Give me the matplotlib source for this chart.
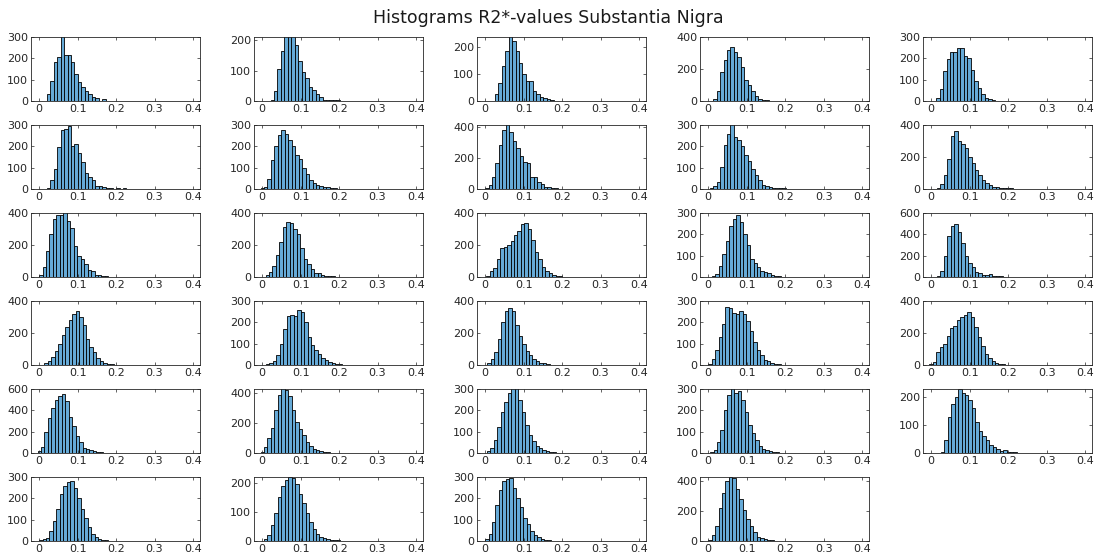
import matplotlib
matplotlib.use('Agg')
import matplotlib.pyplot as plt
from matplotlib.ticker import FuncFormatter, MaxNLocator

# histogram counts per subject (bin width BIN_W, first bin edge in starts)
BIN_W = 0.009
starts = [
    0.020, 0.022, 0.025, 0.013, 0.013,
    0.020, -0.004, 0.000, 0.004, 0.015,
    0.000, 0.000, 0.003, 0.010, 0.015,
    0.005, 0.010, 0.006, 0.000, -0.005,
    -0.004, -0.004, 0.005, 0.005, 0.025,
    0.000, 0.005, 0.000, 0.000,
]
counts = [
    # row 1
    [31, 95, 185, 205, 320, 215, 215, 185, 125, 90, 65, 45, 35, 18, 12, 0, 8],
    [3, 33, 105, 165, 260, 280, 250, 185, 130, 95, 75, 45, 35, 22, 12, 3, 2, 2, 2, 2],
    [25, 65, 128, 185, 245, 220, 185, 140, 100, 75, 75, 35, 25, 15, 12, 8, 3],
    [15, 60, 180, 255, 320, 340, 305, 275, 215, 130, 100, 60, 30, 15, 8, 5, 3, 2],
    [12, 55, 140, 195, 228, 228, 248, 248, 210, 200, 145, 95, 60, 35, 15, 8, 3],
    # row 2
    [3, 40, 95, 195, 275, 280, 295, 200, 210, 170, 125, 75, 55, 40, 15, 12, 10, 5, 3, 0, 3, 0, 3],
    [3, 8, 45, 135, 200, 255, 275, 260, 230, 200, 160, 140, 100, 70, 40, 30, 20, 15, 10, 8, 5, 3],
    [5, 25, 75, 165, 285, 380, 415, 365, 310, 260, 210, 175, 165, 80, 75, 45, 30, 12, 10, 5, 5, 3, 3, 2, 0, 3, 0, 0, 3],
    [3, 15, 35, 105, 205, 260, 310, 245, 230, 200, 160, 130, 95, 65, 40, 20, 15, 10, 5, 3, 3, 3],
    [5, 30, 90, 190, 330, 360, 300, 280, 255, 200, 165, 120, 85, 55, 35, 25, 15, 10, 8, 8, 5, 5, 3],
    # row 3
    [15, 60, 160, 270, 360, 390, 385, 410, 350, 305, 195, 130, 115, 80, 45, 35, 15, 12, 8, 5, 3, 0, 3, 0, 0, 3],
    [3, 10, 30, 70, 140, 220, 310, 345, 335, 300, 270, 180, 115, 80, 50, 25, 25, 15, 8, 5, 5, 3, 2],
    [5, 40, 55, 110, 180, 185, 200, 225, 260, 290, 330, 340, 300, 230, 155, 110, 65, 40, 25, 15, 8, 5, 3],
    [5, 15, 50, 110, 170, 240, 270, 290, 260, 200, 150, 85, 65, 45, 30, 25, 20, 10, 5, 3],
    [10, 60, 200, 380, 480, 500, 420, 320, 200, 130, 90, 50, 35, 20, 15, 25, 10, 8, 5, 3],
    # row 4
    [3, 10, 25, 50, 90, 130, 185, 240, 280, 320, 335, 300, 250, 160, 110, 80, 45, 25, 15, 8, 5, 3],
    [3, 8, 20, 45, 100, 170, 230, 235, 230, 260, 250, 200, 130, 95, 70, 50, 35, 25, 15, 10, 5, 3],
    [15, 40, 80, 160, 270, 340, 355, 340, 250, 180, 130, 90, 60, 40, 25, 15, 10, 5, 3],
    [5, 30, 70, 130, 190, 270, 265, 245, 240, 255, 240, 205, 160, 110, 70, 45, 25, 20, 10, 5, 3],
    [5, 20, 80, 110, 130, 180, 230, 245, 280, 300, 315, 330, 300, 240, 175, 120, 70, 45, 25, 15, 8, 5, 3],
    # row 5
    [20, 60, 200, 330, 420, 500, 530, 550, 490, 340, 250, 160, 100, 50, 35, 25, 15, 10, 5, 3],
    [5, 40, 100, 170, 290, 390, 440, 425, 380, 290, 210, 160, 120, 75, 45, 30, 20, 15, 8, 5, 3, 2],
    [10, 25, 60, 120, 190, 240, 280, 320, 320, 250, 190, 130, 85, 55, 35, 25, 15, 10, 5, 3],
    [3, 15, 50, 110, 200, 270, 310, 280, 290, 250, 190, 130, 95, 60, 35, 20, 12, 8, 5, 3],
    [5, 45, 130, 175, 200, 230, 215, 210, 190, 160, 110, 80, 60, 45, 30, 20, 15, 8, 10, 5, 3, 2],
    # row 6
    [3, 8, 15, 45, 95, 150, 220, 260, 275, 280, 250, 200, 150, 110, 65, 35, 20, 10, 5, 3],
    [8, 20, 55, 95, 150, 190, 210, 220, 215, 195, 160, 130, 95, 65, 40, 25, 15, 10, 8, 5, 3, 2],
    [8, 35, 90, 170, 240, 280, 290, 295, 250, 200, 160, 110, 80, 45, 30, 20, 10, 5, 3],
    [10, 40, 100, 220, 320, 400, 430, 420, 350, 280, 210, 150, 100, 60, 30, 20, 12, 8, 5, 3],
]
# y-axis upper limits as shown
ytops = [
    300, 210, 235, 400, 300,
    300, 300, 410, 300, 400,
    400, 400, 400, 300, 600,
    400, 300, 400, 300, 400,
    600, 430, 300, 300, 230,
    300, 220, 300, 430,
]
xticks = [0, 0.1, 0.2, 0.3, 0.4]

title = 'Histograms R2*-values Substantia Nigra'

# figure layout (5 columns x 6 rows, matlab-like)
fig, axes = plt.subplots(6, 5, figsize=(10.97, 5.58), dpi=100)
fig.subplots_adjust(left=31/1097, right=1092/1097, top=1-37/558,
                    bottom=1-541/558, wspace=0.32, hspace=0.375)

bar_fc = '#66AAD7'
tick_c = '#262626'

for i, ax in enumerate(axes.flat):
    if i >= len(counts):
        ax.set_visible(False)
        continue
    c = counts[i]
    edges = [starts[i] + BIN_W * k for k in range(len(c))]
    ax.bar(edges, c, width=BIN_W, align='edge', color=bar_fc,
           edgecolor='black', linewidth=0.6)
    ax.set_xlim(-0.021, 0.418)
    ax.set_ylim(0, ytops[i])
    ax.set_xticks(xticks)
    ax.xaxis.set_major_formatter(FuncFormatter(lambda v, p: '%g' % v))
    ax.yaxis.set_major_locator(MaxNLocator(nbins=3, steps=[1, 2, 5, 10]))
    ax.tick_params(direction='in', length=2.5, width=0.5, top=True,
                   right=True, labelsize=8, colors=tick_c, pad=2)
    for s in ax.spines.values():
        s.set_linewidth(0.6)
        s.set_color('#262626')

fig.suptitle(title, y=1-18/558, va='center', fontsize=12.5, color='#1a1a1a')

fig.savefig('out.png', dpi=100)
